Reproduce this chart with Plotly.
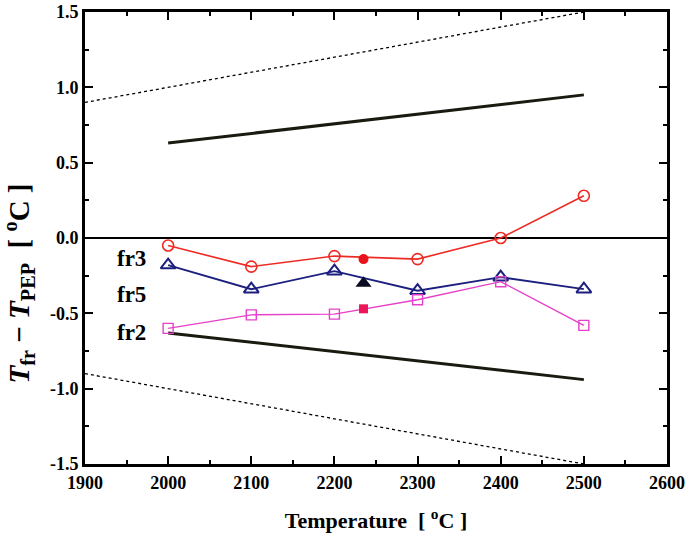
import plotly.graph_objects as go

temps = [2000, 2100, 2200, 2300, 2400, 2500]
fr3 = [-0.05, -0.19, -0.12, -0.14, 0.00, 0.28]
fr5 = [-0.18, -0.34, -0.22, -0.35, -0.26, -0.34]
fr2 = [-0.60, -0.51, -0.505, -0.41, -0.29, -0.58]

extra_t = [2235]
fr3_extra = [-0.14]
fr5_extra = [-0.30]
fr2_extra = [-0.47]

band_x = [2000, 2500]
band_upper = [0.63, 0.95]
band_lower = [-0.63, -0.94]
dash_x = [1900, 2500]
dash_upper = [0.90, 1.50]
dash_lower = [-0.90, -1.50]
zero_x = [1900, 2600]
zero_y = [0, 0]

yticks = [-1.5, -1.0, -0.5, 0.0, 0.5, 1.0, 1.5]
ytick_text = ["-1.5", "-1.0", "-0.5", "0.0", "0.5", "1.0", "1.5"]
xticks = [1900, 2000, 2100, 2200, 2300, 2400, 2500, 2600]
xtick_text = [str(v) for v in xticks]

series_labels = ["fr3", "fr5", "fr2"]
series_label_y = [-0.133, -0.375, -0.63]

RED = "#EE2A24"
NAVY = "#1C1F7E"
MAG = "#E640C8"

fig = go.Figure()
fig.add_trace(go.Scatter(x=zero_x, y=zero_y, mode="lines", line=dict(color="black", width=1.8)))
fig.add_trace(go.Scatter(x=band_x, y=band_upper, mode="lines", line=dict(color="#1a1a10", width=3)))
fig.add_trace(go.Scatter(x=band_x, y=band_lower, mode="lines", line=dict(color="#1a1a10", width=3)))
fig.add_trace(go.Scatter(x=dash_x, y=dash_upper, mode="lines", line=dict(color="black", width=1.3, dash="3px,3px")))
fig.add_trace(go.Scatter(x=dash_x, y=dash_lower, mode="lines", line=dict(color="black", width=1.3, dash="3px,3px")))

fig.add_trace(go.Scatter(x=temps, y=fr3, mode="lines+markers", line=dict(color=RED, width=1.6),
                         marker=dict(symbol="circle-open", size=11, color=RED, line=dict(width=1.6))))
fig.add_trace(go.Scatter(x=temps, y=fr5, mode="lines+markers", line=dict(color=NAVY, width=1.8),
                         marker=dict(symbol="triangle-up-open", size=13, color=NAVY, line=dict(width=2))))
fig.add_trace(go.Scatter(x=temps, y=fr2, mode="lines+markers", line=dict(color=MAG, width=1.4),
                         marker=dict(symbol="square-open", size=10, color=MAG, line=dict(width=1.4))))

fig.add_trace(go.Scatter(x=extra_t, y=fr3_extra, mode="markers",
                         marker=dict(symbol="circle", size=10, color="#E8141C")))
fig.add_trace(go.Scatter(x=extra_t, y=fr5_extra, mode="markers",
                         marker=dict(symbol="triangle-up", size=14, color="#0a0a20")))
fig.add_trace(go.Scatter(x=extra_t, y=fr2_extra, mode="markers",
                         marker=dict(symbol="square", size=9, color="#E8185A")))

label_font = dict(family="Liberation Serif", size=23, color="black")
for txt, yy in zip(series_labels, series_label_y):
    fig.add_annotation(x=1956, y=yy, text="<b>%s</b>" % txt, showarrow=False, font=label_font)

# y-axis title (placed like the reference, slightly below the axis centre)
fig.add_annotation(xref="paper", yref="paper", x=-0.113, y=0.40, xanchor="center", yanchor="middle",
                   textangle=-90, showarrow=False,
                   text="<b><i>T</i><sub>fr</sub> − <i>T</i><sub>PEP</sub>  [ <sup>o</sup>C ]</b>",
                   font=dict(family="Liberation Serif", size=29, color="black"))

axis_common = dict(
    showgrid=False, zeroline=False, showline=True, linecolor="black", linewidth=3,
    mirror="ticks", ticks="inside", ticklen=8, tickwidth=2, tickcolor="black",
    tickfont=dict(family="Liberation Serif", size=18, color="black"),
    ticklabeloverflow="allow", automargin=False,
)

fig.update_xaxes(range=[1900, 2600], tickvals=xticks, ticktext=["<b>%s</b>" % t for t in xtick_text],
                 minor=dict(dtick=50, tick0=1900, ticks="inside", ticklen=4, tickwidth=2, tickcolor="black"),
                 title=dict(text="<b>Temperature  [ <sup>o</sup>C ]</b>",
                            font=dict(family="Liberation Serif", size=22, color="black"), standoff=22),
                 **axis_common)
fig.update_yaxes(range=[-1.5, 1.5], tickvals=yticks, ticktext=["<b>%s</b>" % t for t in ytick_text],
                 minor=dict(dtick=0.25, tick0=-1.5, ticks="inside", ticklen=4, tickwidth=2, tickcolor="black"),
                 **axis_common)

fig.update_layout(
    width=695, height=540, showlegend=False,
    paper_bgcolor="white", plot_bgcolor="white",
    margin=dict(l=85, r=28, t=12, b=76),
)
fig.write_html("out.html", config={"displayModeBar": False},
               post_script="document.body.style.margin='0px';")
